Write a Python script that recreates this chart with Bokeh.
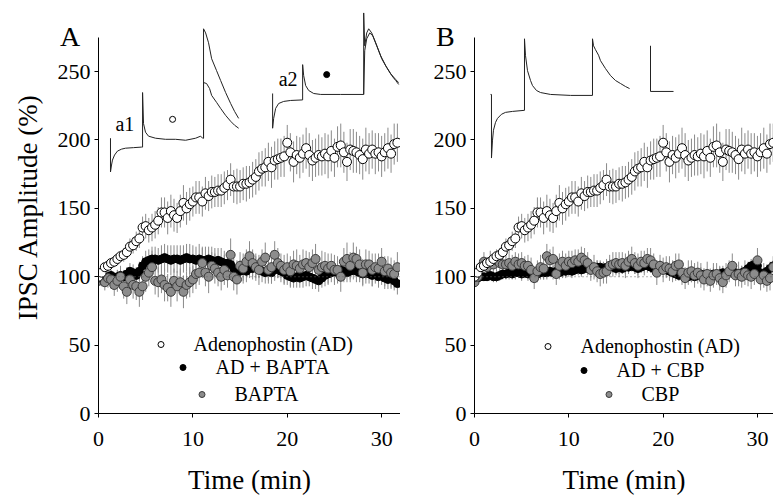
from bokeh.plotting import figure
from bokeh.layouts import row
from bokeh.models import Range1d, Span, Legend, LegendItem, Div, ColumnDataSource, FixedTicker
from bokeh.embed import file_html
from bokeh.resources import INLINE
from bokeh.core.properties import value

# ---------------- data ----------------
time_min = [0, 0.33, 0.67, 1, 1.33, 1.67, 2, 2.33, 2.67, 3, 3.33, 3.67, 4, 4.33, 4.67, 5, 5.33, 5.67,
            6, 6.33, 6.67, 7, 7.33, 7.67, 8, 8.33, 8.67, 9, 9.33, 9.67, 10, 10.33, 10.67, 11, 11.33, 11.67,
            12, 12.33, 12.67, 13, 13.33, 13.67, 14, 14.33, 14.67, 15, 15.33, 15.67, 16, 16.33, 16.67, 17,
            17.33, 17.67, 18, 18.33, 18.67, 19, 19.33, 19.67, 20, 20.33, 20.67, 21, 21.33, 21.67, 22, 22.33,
            22.67, 23, 23.33, 23.67, 24, 24.33, 24.67, 25, 25.33, 25.67, 26, 26.33, 26.67, 27, 27.33, 27.67,
            28, 28.33, 28.67, 29, 29.33, 29.67, 30, 30.33, 30.67, 31, 31.33, 31.67]

# Adenophostin (AD) -- same in both panels
ad_mean = [100, 103, 107, 108, 110, 111, 113, 115, 116, 118,
           122, 123, 126, 128, 136, 137, 134, 136, 138, 141,
           147, 147, 143, 148, 145, 143, 148, 154, 150, 153,
           155, 158, 158, 155, 161, 159, 162, 162, 163, 163,
           165, 167, 171, 166, 166, 166, 168, 168, 169, 171,
           173, 177, 179, 180, 184, 180, 185, 186, 187, 188,
           198, 191, 184, 189, 187, 190, 194, 189, 185, 187,
           189, 188, 190, 188, 192, 187, 195, 196, 191, 184,
           193, 192, 191, 189, 186, 193, 190, 193, 190, 191,
           188, 191, 194, 190, 197, 198]
ad_sem = [2, 2, 3, 3, 3, 4, 4, 4, 5, 5,
          6, 6, 7, 7, 8, 9, 9, 10, 10, 10,
          11, 11, 12, 12, 12, 11, 12, 13, 12, 12,
          11, 12, 12, 11, 12, 11, 12, 11, 12, 12,
          12, 11, 12, 12, 13, 12, 12, 13, 12, 13,
          13, 14, 13, 14, 14, 15, 14, 15, 14, 15,
          13, 14, 15, 14, 15, 14, 15, 16, 15, 14,
          15, 14, 15, 16, 15, 14, 15, 16, 15, 14,
          15, 16, 15, 14, 15, 16, 15, 14, 15, 14,
          15, 14, 15, 14, 15, 14]

# Panel A: AD + BAPTA, BAPTA
ad_bapta_mean = [100, 99, 98, 100, 101, 99, 100, 101, 100, 102, 104, 103, 101,
                 104, 108, 111, 112, 113,
                 113, 112, 113, 114, 113, 112, 113, 113, 112, 113, 114, 113, 113, 112, 113, 112,
                 112, 113, 112, 111, 112, 111, 110,
                 110, 109, 106, 104, 104, 105, 104, 106, 106, 107, 106, 104, 103, 104, 103,
                 105, 106, 104, 103, 101, 100, 99, 100, 99, 100, 101, 100, 99, 98, 97,
                 99, 101, 102, 103, 104, 103, 105, 104, 103, 104, 105, 104, 103, 102, 103,
                 102, 101, 102, 100, 101, 99, 98, 99, 97, 95]
ad_bapta_sem = [3, 3, 4, 4, 4, 4, 5, 5, 5, 5,
                6, 6, 6, 7, 7, 8, 8, 9, 9, 9,
                10, 10, 10, 11, 10, 10, 11, 10, 10, 11,
                10, 10, 11, 10, 10, 9, 10, 10, 9, 10,
                9, 9, 8, 8, 8, 8, 8, 8, 7, 8,
                8, 7, 8, 8, 7, 8, 8, 7, 8, 8,
                7, 8, 7, 8, 7, 8, 8, 7, 8, 7,
                8, 7, 8, 8, 7, 8, 7, 8, 8, 7,
                8, 7, 8, 7, 8, 8, 7, 8, 7, 8,
                7, 8, 7, 8, 7, 8]
bapta_mean = [97, 99, 96, 99, 98, 94, 97, 100, 93, 89,
              98, 94, 93, 89, 93, 100, 103, 107, 97, 96,
              98, 94, 92, 89, 97, 93, 96, 89, 94, 96,
              98, 102, 103, 110, 103, 100, 108, 106, 103, 100,
              105, 101, 116, 100, 98, 108, 106, 111, 115, 110,
              107, 105, 111, 114, 105, 107, 116, 110, 108, 105,
              107, 104, 109, 108, 106, 109, 110, 107, 110, 113,
              105, 107, 108, 106, 108, 105, 105, 100, 111, 113,
              108, 114, 113, 109, 103, 109, 109, 105, 107, 106,
              111, 104, 106, 103, 102, 107]
bapta_sem = [5, 6, 6, 7, 7, 8, 8, 8, 9, 9,
             9, 10, 10, 11, 10, 11, 10, 12, 10, 11,
             10, 12, 10, 11, 9, 11, 10, 12, 10, 11,
             10, 11, 9, 11, 10, 12, 10, 11, 10, 10,
             11, 9, 12, 10, 11, 10, 11, 9, 11, 10,
             10, 11, 9, 11, 10, 12, 10, 11, 9, 11,
             10, 11, 10, 12, 10, 11, 9, 11, 10, 11,
             10, 12, 10, 11, 9, 11, 10, 11, 10, 12,
             10, 11, 9, 11, 10, 11, 10, 12, 10, 11,
             10, 11, 9, 11, 10, 11]

# Panel B: AD + CBP, CBP
ad_cbp_mean = [98, 99, 100, 100, 100, 101, 100, 100, 101,
               102, 102, 103, 102, 103, 103, 102, 103, 102, 103, 102, 102, 103, 103, 103, 104, 103,
               104, 103, 104, 104,
               105, 104, 105, 106, 105, 106, 106, 107, 106, 107, 107, 106, 107, 108, 107, 106, 107,
               106, 107,
               107, 108, 107, 106, 107, 108, 108, 107, 106, 107, 108, 106, 105, 104,
               103, 102, 101, 102, 101, 100, 101, 100, 101, 102, 101, 100, 101, 102, 101, 102, 103, 102,
               103, 104, 103, 102, 103, 104, 106, 108, 109, 108, 103, 102, 104, 106, 108]
ad_cbp_sem = [2, 2, 3, 3, 3, 3, 4, 4, 4, 4,
              4, 5, 4, 5, 4, 5, 4, 5, 5, 4,
              5, 4, 5, 5, 4, 5, 4, 5, 5, 4,
              5, 5, 4, 5, 5, 4, 5, 5, 4, 5,
              5, 4, 5, 5, 4, 5, 5, 4, 5, 5,
              4, 5, 5, 4, 5, 5, 4, 5, 5, 4,
              5, 5, 4, 5, 5, 4, 5, 5, 4, 5,
              5, 4, 5, 5, 4, 5, 5, 4, 5, 5,
              4, 5, 5, 4, 5, 5, 4, 5, 5, 4,
              5, 5, 4, 5, 5, 4]
cbp_mean = [96, 100, 107, 111, 107, 111, 109, 112, 110, 109,
            109, 110, 108, 111, 109, 110, 108, 108, 105, 99,
            104, 107, 106, 115, 112, 113, 102, 108, 111, 108,
            111, 110, 112, 111, 114, 112, 110, 105, 107, 104,
            102, 103, 104, 108, 109, 110, 109, 110, 108, 111,
            113, 110, 108, 111, 110, 113, 112, 109, 103, 108,
            105, 107, 106, 104, 108, 109, 103, 99, 103, 104,
            101, 103, 101, 98, 102, 97, 101, 102, 99, 96,
            101, 104, 108, 101, 102, 100, 103, 101, 100, 102,
            112, 98, 101, 97, 99, 107]
cbp_sem = [4, 5, 6, 7, 7, 8, 7, 8, 7, 8,
           8, 7, 8, 7, 8, 8, 7, 8, 9, 8,
           8, 9, 8, 9, 8, 9, 8, 9, 8, 9,
           8, 9, 8, 9, 8, 9, 8, 8, 9, 8,
           9, 8, 9, 8, 9, 8, 9, 8, 9, 8,
           9, 8, 9, 8, 9, 8, 9, 8, 9, 8,
           9, 8, 9, 8, 9, 8, 9, 8, 9, 8,
           9, 8, 9, 8, 9, 8, 9, 8, 9, 8,
           9, 8, 9, 8, 9, 8, 9, 8, 9, 8,
           9, 8, 9, 8, 9, 8]

y_ticks = [0, 50, 100, 150, 200, 250]
x_ticks = [0, 10, 20, 30]

# ---------------- inset current traces (in the panels' own units) ----------------
a1_trace1_t = [1.27, 1.27, 1.38, 1.48, 1.70, 2.01, 2.44, 2.86, 3.71, 4.56, 4.67, 4.67, 4.77, 4.98, 5.30,
               6.04, 7.10, 8.17, 9.23, 10.29, 10.82, 11.03, 11.13, 11.13, 11.35, 11.66, 11.99, 12.51,
               12.94, 13.47, 14.00, 14.42, 14.85]
a1_trace1_v = [201.3, 176.6, 181.7, 185.3, 189.0, 191.9, 193.3, 194.0, 194.4, 194.8, 194.8, 234.7, 212.0,
               205.7, 202.8, 201.3, 200.5, 200.5, 199.8, 201.3, 202.8, 201.3, 201.3, 281.3, 278.3, 271.1,
               259.4, 250.7, 243.5, 234.7, 226.7, 220.9, 215.8]
a1_trace2_t = [11.13, 11.13, 11.45, 11.77, 11.99, 12.51, 12.94, 13.47, 14.00, 14.42, 14.85]
a1_trace2_v = [201.3, 242.0, 241.3, 237.6, 232.6, 227.5, 223.1, 218.0, 213.7, 210.8, 208.6]
a2_trace1_t = [18.45, 18.45, 18.56, 18.77, 19.09, 19.62, 20.36, 21.63, 21.63, 21.74, 21.95, 22.27, 22.80,
               23.54, 25.66, 28.10, 28.10, 28.21, 28.42, 28.63, 28.95, 29.37, 29.90, 30.43, 30.96, 31.49,
               31.81]
a2_trace1_v = [234.0, 208.6, 215.8, 223.1, 226.7, 228.2, 228.9, 229.3, 255.1, 247.1, 239.8, 236.2, 234.0,
               233.3, 233.3, 233.3, 292.9, 268.9, 278.3, 281.3, 278.3, 271.1, 261.6, 254.4, 248.5, 244.2,
               242.0]
a2_trace2_t = [28.10, 28.21, 28.42, 28.74, 29.06, 29.48, 30.01, 30.54, 31.07, 31.49, 31.81]
a2_trace2_v = [233.3, 265.3, 274.0, 278.3, 276.2, 268.9, 259.4, 252.9, 247.1, 243.5, 240.6]
b_trace_t = [1.70, 1.80, 1.80, 1.91, 2.01, 2.23, 2.44, 2.86, 3.29, 4.03, 5.30, 5.30, 5.41, 5.62, 5.94,
             6.15, 6.57, 7.00, 8.06, 10.18, 12.51, 12.51, 12.62, 12.83, 13.15, 13.36, 13.89, 14.42, 14.95,
             15.48, 16.01, 16.44]
b_trace_v = [233.3, 233.3, 186.8, 199.9, 207.1, 212.9, 215.8, 218.8, 220.2, 220.9, 221.7, 274.0, 261.6,
             250.7, 243.5, 239.8, 236.2, 234.7, 233.3, 232.6, 232.6, 274.0, 268.9, 266.0, 262.0, 258.0,
             252.2, 247.1, 243.5, 241.3, 239.1, 237.6]
b_scale_t = [18.66, 18.66, 21.10]
b_scale_v = [268.9, 235.5, 235.5]

inset_labels = ["a1", "a2"]
inset_label_t = [1.8, 19.09]
inset_label_v = [212.0, 244.9]
inset_marker_a1 = (7.85, 215.1)
inset_marker_a2 = (24.18, 247.8)

panel_letters = ["A", "B"]

# ---------------- styling ----------------
FONT = "Liberation Serif"
OPEN = dict(marker="circle", size=9, fill_color="white", line_color="black", line_width=1)
BLACK = dict(marker="circle", size=8, fill_color="black", line_color="black", line_width=1)
GRAY = dict(marker="circle", size=9, fill_color="#8c8c8c", line_color="#3a3a3a", line_width=1)
ERR_COLOR = "#8a8a8a"
TRACE_COLOR = "#222222"
FIG_H = 498


def make_panel(width, border_left, x_end, ylabel):
    p = figure(width=width, height=FIG_H, x_range=Range1d(0, x_end), y_range=Range1d(0, 302),
               output_backend="svg", toolbar_location=None,
               min_border_left=border_left, min_border_right=0, min_border_top=0, min_border_bottom=85)
    p.outline_line_color = None
    p.xgrid.visible = False
    p.ygrid.visible = False
    p.background_fill_color = "white"
    p.border_fill_color = "white"
    for ax in (p.xaxis[0], p.yaxis[0]):
        ax.axis_line_color = "black"
        ax.axis_line_width = 1
        ax.major_tick_line_color = "black"
        ax.major_tick_in = 0
        ax.major_tick_out = 4
        ax.minor_tick_line_color = None
        ax.major_label_text_font = FONT
        ax.major_label_text_font_size = "22px"
        ax.major_label_text_color = "black"
        ax.axis_label_text_font = FONT
        ax.axis_label_text_font_size = "27px"
        ax.axis_label_text_font_style = "normal"
        ax.axis_label_text_color = "black"
    p.xaxis.ticker = FixedTicker(ticks=x_ticks)
    p.yaxis.ticker = FixedTicker(ticks=y_ticks)
    p.xaxis.bounds = (0, x_end)
    p.yaxis.bounds = (0, 275)
    p.xaxis.major_label_standoff = 14
    p.yaxis.major_label_standoff = 4
    p.xaxis.axis_label = "Time (min)"
    p.xaxis.axis_label_standoff = 16
    if ylabel:
        p.yaxis.axis_label = ylabel
        p.yaxis.axis_label_standoff = 12
    p.add_layout(Span(location=100, dimension="width", line_color="#666666",
                      line_dash="1 3", line_width=1))
    return p


def draw_panel(p, series, legend_specs):
    srcs = []
    for mean, sem, style in series:
        src = ColumnDataSource(dict(t=time_min, m=mean,
                                    lo=[a - b for a, b in zip(mean, sem)],
                                    hi=[a + b for a, b in zip(mean, sem)]))
        p.segment(x0="t", y0="lo", x1="t", y1="hi", source=src, line_color=ERR_COLOR, line_width=1)
        srcs.append((src, style))
    renderers = []
    for src, style in srcs:
        renderers.append(p.scatter(x="t", y="m", source=src, **style))
    for r, (label, loc) in zip(renderers, legend_specs):
        leg = Legend(items=[LegendItem(label=label, renderers=[r])], location=loc,
                     padding=0, margin=0, spacing=0, glyph_width=15, glyph_height=24,
                     label_height=24, label_standoff=26, border_line_color=None,
                     background_fill_alpha=0, label_text_font=FONT, label_text_font_size="20px",
                     label_text_color="black")
        p.add_layout(leg)


def letter_div(letter, left_px):
    return Div(text=letter, width=30, height=34,
               styles={"position": "absolute", "left": f"{left_px}px", "top": "23px",
                       "font-family": "'Liberation Serif', serif", "font-size": "28px",
                       "line-height": "28px", "color": "black", "z-index": "10", "margin": "0"})


# ---------------- panel A ----------------
pA = make_panel(400, 98, 32, "IPSC Amplitude (%)")
pA.line(a1_trace1_t, a1_trace1_v, line_color=TRACE_COLOR, line_width=1)
pA.line(a1_trace2_t, a1_trace2_v, line_color=TRACE_COLOR, line_width=1)
pA.line(a2_trace1_t, a2_trace1_v, line_color=TRACE_COLOR, line_width=1)
pA.line(a2_trace2_t, a2_trace2_v, line_color=TRACE_COLOR, line_width=1)
pA.text(x=inset_label_t, y=inset_label_v, text=inset_labels, text_font=value(FONT),
        text_font_size=value("20px"), text_baseline="middle", text_align="left", text_color="black")
pA.scatter([inset_marker_a1[0]], [inset_marker_a1[1]], marker="circle", size=6,
           fill_color="white", line_color="black")
pA.scatter([inset_marker_a2[0]], [inset_marker_a2[1]], marker="circle", size=6,
           fill_color="black", line_color="black")
draw_panel(pA,
           [(ad_bapta_mean, ad_bapta_sem, BLACK), (bapta_mean, bapta_sem, GRAY), (ad_mean, ad_sem, OPEN)],
           [("AD + BAPTA", (76.5, 34)), ("BAPTA", (95.5, 7)), ("Adenophostin (AD)", (54.5, 57))])

# ---------------- panel B ----------------
pB = make_panel(373, 74, 31.7, None)
pB.line(b_trace_t, b_trace_v, line_color=TRACE_COLOR, line_width=1)
pB.line(b_scale_t, b_scale_v, line_color=TRACE_COLOR, line_width=1)
draw_panel(pB,
           [(ad_cbp_mean, ad_cbp_sem, BLACK), (cbp_mean, cbp_sem, GRAY), (ad_mean, ad_sem, OPEN)],
           [("AD + CBP", (101.5, 31)), ("CBP", (126.5, 7)), ("Adenophostin (AD)", (65.5, 55))])

layout = row(pA, pB, letter_div(panel_letters[0], 60), letter_div(panel_letters[1], 436))
open("out.html", "w").write(file_html(layout, INLINE))
